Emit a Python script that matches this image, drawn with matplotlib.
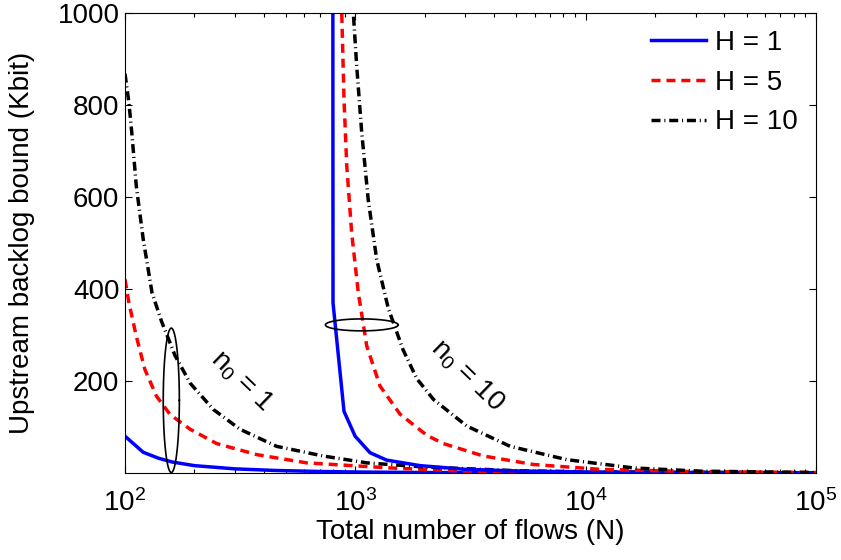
import numpy as np
import matplotlib
matplotlib.use("Agg")
import matplotlib.pyplot as plt

plt.rcParams['font.family'] = ['Liberation Sans', 'DejaVu Sans']
plt.rcParams['mathtext.default'] = 'regular'

# n0 = 1 group
n1_h1 = [100, 120, 140, 160, 200, 300, 450, 700, 1000, 2000, 5000, 10000, 100000]
b1_h1 = [80, 45, 32, 24, 16, 9, 5.5, 3.3, 2.2, 1.0, 0.4, 0.2, 0.02]
n1_h5 = [100, 104, 112, 122, 137, 157, 192, 250, 373, 615, 1416, 3000, 10000, 100000]
b1_h5 = [421, 370, 297, 225, 167, 127, 95, 64, 40, 22, 11, 4, 1.1, 0.1]
n1_h10 = [100, 104, 107, 112, 120, 131, 144, 165, 192, 242, 316, 455, 724, 1124, 2000, 5000, 10000, 100000]
b1_h10 = [868, 805, 740, 623, 508, 392, 330, 255, 195, 138, 95, 58, 37, 22, 13, 5, 2.5, 0.25]

# n0 = 10 group
n10_h1 = [795, 800, 893, 998, 1159, 1368, 1911, 3000, 5000, 10000, 100000]
b10_h1 = [3000, 370, 134, 80, 44, 28, 16, 8, 4.5, 2.1, 0.2]
n10_h5 = [840, 873, 893, 918, 964, 1030, 1121, 1280, 1563, 2043, 2410, 3597, 5930, 11500, 30000, 100000]
b10_h5 = [1500, 1000, 812, 667, 522, 392, 276, 189, 128, 82, 64, 37, 18.5, 8, 3, 1]
n10_h10 = [955, 980, 1014, 1066, 1137, 1238, 1390, 1611, 1849, 2183, 3048, 4698, 8280, 16100, 31400, 100000]
b10_h10 = [1150, 1000, 884, 740, 595, 464, 358, 268, 205, 160, 102, 58, 29, 11, 4, 1]

labels = ['H = 1', 'H = 5', 'H = 10']
colors = ['#0000ff', '#ff0000', '#000000']

fig = plt.figure(figsize=(8.41, 5.6), dpi=100)
ax = fig.add_axes([125/841, 1-473/560, (816-125)/841, (473-13)/560])

lw = 2.5
dash = (2.6, 1.7)
dashdot = (2.6, 1.1, 0.3, 1.1)
l1, = ax.plot(n1_h1, b1_h1, color=colors[0], lw=lw, label=labels[0])
l2, = ax.plot(n1_h5, b1_h5, color=colors[1], lw=lw, dashes=dash, label=labels[1])
l3, = ax.plot(n1_h10, b1_h10, color=colors[2], lw=lw, dashes=dashdot, label=labels[2])
ax.plot(n10_h1, b10_h1, color=colors[0], lw=lw)
ax.plot(n10_h5, b10_h5, color=colors[1], lw=lw, dashes=dash)
ax.plot(n10_h10, b10_h10, color=colors[2], lw=lw, dashes=dashdot)

# ellipses marking the groups
t = np.linspace(0, 2*np.pi, 200)
ax.plot(10**(2.201 + 0.035*np.cos(t)), 158 + 157*np.sin(t), color='k', lw=1.2)
ax.plot(10**(3.028 + 0.158*np.cos(t)), 322 + 13*np.sin(t), color='k', lw=1.2)

ax.text(320, 200, '$n_0$ = 1', fontsize=20, rotation=-44, ha='center', va='center',
        rotation_mode='anchor')
ax.text(3050, 212, '$n_0$ = 10', fontsize=20, rotation=-44, ha='center', va='center',
        rotation_mode='anchor')

ax.set_xscale('log')
ax.set_xlim(100, 100000)
ax.set_ylim(0, 1000)
ax.set_yticks([200, 400, 600, 800, 1000])
ax.tick_params(which='both', direction='in', top=True, right=True, labelsize=20)
ax.tick_params(which='major', length=5, width=0.8)
ax.tick_params(which='minor', length=3, width=0.8)
ax.tick_params(axis='x', pad=12)
ax.tick_params(axis='y', pad=4)
ax.set_xlabel('Total number of flows (N)', fontsize=20)
ax.set_ylabel('Upstream backlog bound (Kbit)', fontsize=20)
ax.xaxis.set_label_coords(0.5, -0.1)
ax.yaxis.set_label_coords(-0.13, 0.5)

ax.legend(handles=[l1, l2, l3], loc='upper right', frameon=False, fontsize=20,
          handlelength=2.0, handletextpad=0.3, labelspacing=0.5,
          bbox_to_anchor=(0.997, 1.0), borderaxespad=0.2)

fig.savefig('out.png', dpi=100)
